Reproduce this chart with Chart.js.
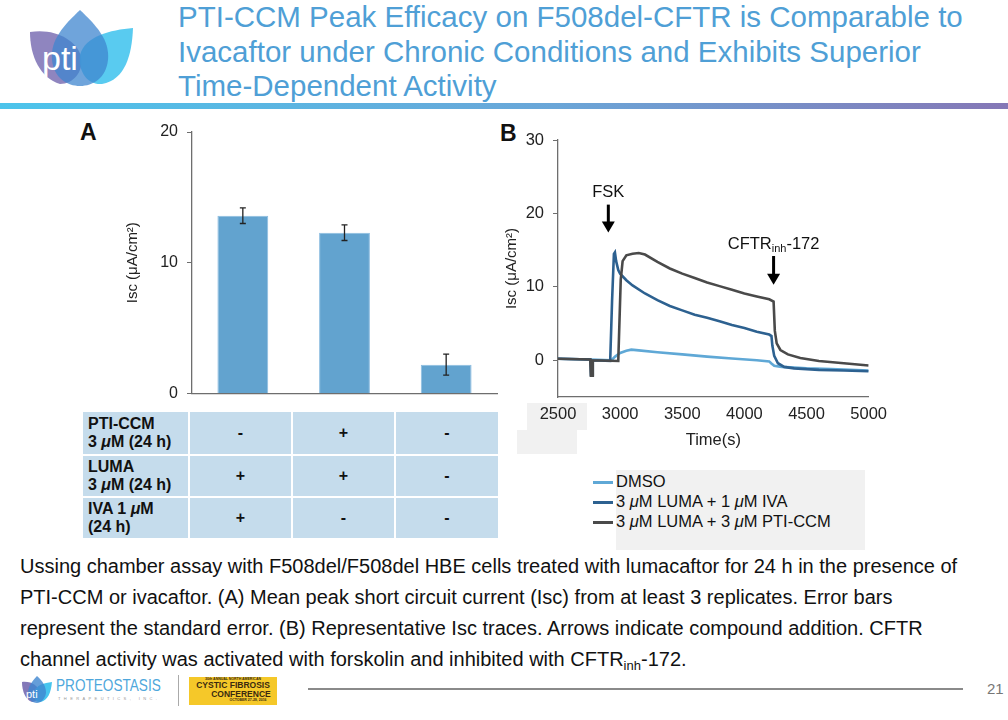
<!DOCTYPE html>
<html>
<head>
<meta charset="utf-8">
<script src="https://cdn.jsdelivr.net/npm/chart.js@4.4.1/dist/chart.umd.min.js"></script>
<style>
  body { margin:0; width:1008px; height:720px; position:relative; overflow:hidden; background:#fff;
         font-family:"Liberation Sans", Arial, sans-serif; color:#111; }
  .abs { position:absolute; }
  #title { left:178px; top:0px; font-size:29.5px; line-height:34.5px; color:#4f9fd6; white-space:nowrap; }
  #rule { left:0; top:103px; width:1008px; height:6px; background:linear-gradient(to right,#4cc4eb,#6aa6d8 55%,#8577b6); }
  .panel { font-weight:bold; font-size:23px; }
  #tbl { left:81px; top:410px; border-collapse:separate; border-spacing:2px; background:#fff; }
  #tbl td { background:#c5dcec; font-weight:bold; font-size:16px; line-height:18px; text-align:center; padding:0; }
  #tbl td:first-child { text-align:left; padding-left:5px; }
  #legend { left:593px; top:471px; font-size:16.5px; }
  #legend div { height:20px; line-height:20px; white-space:nowrap; }
  #legend span { display:inline-block; width:20px; height:2.5px; vertical-align:middle; margin-right:3px; }
  .grey { background:#f1f1f1; }
  #caption { left:20px; top:551px; font-size:20px; line-height:31px; white-space:nowrap; }
  #caption sub { font-size:13px; vertical-align:-4px; line-height:0; }
</style>
</head>
<body>

<svg class="abs" style="left:0;top:0" width="140" height="100">
  <path d="M30,32 C55,28 76,40 81,56 C84,72 73,84 60,84 C40,78 30,56 30,32 Z" fill="#8378b8" opacity="0.9"/>
  <path d="M133,28 C132,55 125,80 102,84 C86,85 78,70 80,55 C85,36 110,30 133,28 Z" fill="#47c5ee" opacity="0.9"/>
  <path d="M80,10 C96,25 110,40 108,60 C106,78 93,86 80,86 C67,86 54,78 52,60 C50,40 64,25 80,10 Z" fill="#3f86cf" opacity="0.75"/>
  <text x="42" y="70" font-size="34" fill="#fff" font-family="Liberation Sans, Arial">pti</text>
</svg>
<div id="title" class="abs">PTI-CCM Peak Efficacy on F508del-CFTR is Comparable to<br>Ivacaftor under Chronic Conditions and Exhibits Superior<br>Time-Dependent Activity</div>
<div id="rule" class="abs"></div>

<div class="abs panel" style="left:80px;top:119px">A</div>
<div class="abs panel" style="left:500px;top:120px">B</div>

<div class="abs grey" style="left:527px;top:403px;width:60px;height:27px"></div>
<div class="abs grey" style="left:517px;top:430px;width:60px;height:24px"></div>
<div class="abs grey" style="left:616px;top:470px;width:249px;height:80px"></div>

<div class="abs" style="left:100px;top:112px;width:400px;height:300px"><canvas id="chartA"></canvas></div>
<div class="abs" style="left:495px;top:118px;width:400px;height:335px"><canvas id="chartB"></canvas></div>

<table id="tbl" class="abs"></table>
<div id="legend" class="abs"></div>

<div id="caption" class="abs">Ussing chamber assay with F508del/F508del HBE cells treated with lumacaftor for 24 h in the presence of<br>PTI-CCM or ivacaftor. (A) Mean peak short circuit current (Isc) from at least 3 replicates. Error bars<br>represent the standard error. (B) Representative Isc traces. Arrows indicate compound addition. CFTR<br>channel activity was activated with forskolin and inhibited with CFTR<sub>inh</sub>-172.</div>

<!-- footer -->
<svg class="abs" style="left:20px;top:676px" width="34" height="28">
  <path d="M2,6 C12,5 18,10 19,16 C20,22 16,26 12,26 C6,24 2,16 2,6 Z" fill="#8378b8"/>
  <path d="M32,6 C31,16 28,25 20,26 C15,26 13,21 14,16 C16,9 24,7 32,6 Z" fill="#47c5ee"/>
  <path d="M17,0 C23,5 26,11 26,17 C25,23 21,27 17,27 C12,27 8,23 8,17 C8,11 12,5 17,0 Z" fill="#3f86cf" opacity="0.8"/>
  <text x="6" y="22" font-size="11" fill="#fff">pti</text>
</svg>
<div class="abs" style="left:56px;top:676px;font-size:17px;color:#4ea7dc;transform:scaleX(0.8);transform-origin:left">PROTEOSTASIS</div>
<div class="abs" style="left:58px;top:696px;font-size:4px;color:#999;letter-spacing:3.4px">THERAPEUTICS, INC.</div>
<div class="abs" style="left:178px;top:675px;width:1px;height:31px;background:#aaa"></div>
<div class="abs" style="left:189px;top:677px;width:88px;height:28px;background:#f5c829;text-align:center;color:#3a2a10;font-weight:bold">
  <div style="font-size:3.5px;line-height:4px">30th ANNUAL NORTH AMERICAN</div>
  <div style="font-size:8.5px;line-height:9px">CYSTIC FIBROSIS</div>
  <div style="font-size:8.5px;line-height:8px;padding-left:16px">CONFERENCE</div>
  <div style="font-size:3.5px;line-height:5px;padding-left:30px">OCTOBER 27-29, 2016</div>
</div>
<div class="abs" style="left:308px;top:688px;width:655px;height:2px;background:#8a8a8a"></div>
<div class="abs" style="left:987px;top:680px;font-size:15px;color:#777">21</div>

<script>
// ---- panel A: peak Isc ----
const treatments = ["LUMA + IVA", "LUMA + PTI-CCM", "DMSO"];
const peakIsc = [13.6, 12.3, 2.2];
const peakErr = [0.6, 0.6, 0.8];
const rowLabels = ["PTI-CCM<br>3 <i>μ</i>M (24 h)", "LUMA<br>3 <i>μ</i>M (24 h)", "IVA 1 <i>μ</i>M<br>(24 h)"];
const rowPticcm = ["-", "+", "-"];
const rowLuma = ["+", "+", "-"];
const rowIva = ["+", "-", "-"];
const yTicksA = [0, 10, 20];

// ---- panel B: Isc traces ----
const seriesNames = ["DMSO", "3 μM LUMA + 1 μM IVA", "3 μM LUMA + 3 μM PTI-CCM"];
const seriesColors = ["#5fa8d6", "#2d6190", "#4a4a4a"];
const dmsoT = [2500, 2760, 2930, 2960, 3000, 3050, 3090, 3150, 3300, 3500, 3700, 3900, 4100, 4200, 4215, 4240, 4300, 4500, 4700, 5000];
const dmsoY = [0.2, 0.1, 0.0, 0.5, 1.0, 1.3, 1.45, 1.35, 1.1, 0.8, 0.5, 0.25, 0.0, -0.15, -0.4, -0.75, -0.9, -1.1, -1.2, -1.4];
const ivaT = [2500, 2760, 2765, 2775, 2780, 2920, 2935, 2950, 2958, 2968, 2985, 3000, 3050, 3100, 3200, 3300, 3400, 3500, 3600, 3700, 3800, 3900, 4000, 4100, 4200, 4218, 4225, 4240, 4270, 4320, 4400, 4600, 4800, 5000];
const ivaY = [0.2, 0.1, -2.0, -2.0, 0.0, -0.1, 8, 14.5, 14.7, 13.5, 12.3, 11.8, 10.9, 10.2, 9.1, 8.2, 7.4, 6.8, 6.2, 5.8, 5.3, 4.8, 4.4, 3.9, 3.5, 3.3, 2.0, 0.6, -0.4, -0.9, -1.1, -1.3, -1.4, -1.5];
const ccmT = [2500, 2760, 2765, 2775, 2780, 2985, 3005, 3020, 3050, 3100, 3150, 3200, 3300, 3400, 3500, 3600, 3700, 3800, 3900, 4000, 4100, 4200, 4235, 4245, 4260, 4290, 4350, 4450, 4600, 4800, 5000];
const ccmY = [0.2, 0.1, -2.1, -2.1, 0.0, -0.1, 11, 13.5, 14.3, 14.5, 14.6, 14.4, 13.4, 12.5, 11.8, 11.2, 10.6, 10.1, 9.6, 9.1, 8.7, 8.3, 8.0, 4.0, 2.3, 1.4, 0.8, 0.3, -0.1, -0.4, -0.7];
const xTicksB = [2500, 3000, 3500, 4000, 4500, 5000];
const yTicksB = [0, 10, 20, 30];

// arrows (data units)
const arrowText = ["FSK", "CFTR"];
const arrowSub = ["", "inh"];
const arrowTail = ["", "-172"];
const arrowTime = [2905, 4235];
const arrowTop = [21.2, 14.2];
const arrowTip = [17.4, 10.3];

const FONT = "'Liberation Sans', Arial, sans-serif";
Chart.defaults.font.family = FONT;
Chart.defaults.color = "#222";

/* table under panel A */
const tbl = document.getElementById("tbl");
const colW = [101, 101, 102];
[rowPticcm, rowLuma, rowIva].forEach((row, r) => {
  const tr = document.createElement("tr");
  tr.style.height = (r === 0 ? 42 : 40) + "px";
  let html = '<td style="width:100px">' + rowLabels[r] + "</td>";
  row.forEach((v, c) => { html += '<td style="width:' + colW[c] + 'px">' + v + "</td>"; });
  tr.innerHTML = html;
  tbl.appendChild(tr);
});

/* error bars */
const errorBars = {
  id: "errorBars",
  afterDatasetsDraw(chart) {
    const { ctx, scales: { y } } = chart;
    const meta = chart.getDatasetMeta(0);
    ctx.save();
    ctx.strokeStyle = "#222";
    ctx.lineWidth = 1.3;
    meta.data.forEach((bar, i) => {
      const hi = y.getPixelForValue(peakIsc[i] + peakErr[i]);
      const lo = y.getPixelForValue(peakIsc[i] - peakErr[i]);
      ctx.beginPath();
      ctx.moveTo(bar.x, hi); ctx.lineTo(bar.x, lo);
      ctx.moveTo(bar.x - 3, hi); ctx.lineTo(bar.x + 3, hi);
      ctx.moveTo(bar.x - 3, lo); ctx.lineTo(bar.x + 3, lo);
      ctx.stroke();
    });
    ctx.restore();
  }
};

/* arrows + labels */
const arrows = {
  id: "arrows",
  afterDatasetsDraw(chart) {
    const { ctx, scales: { x, y } } = chart;
    ctx.save();
    arrowTime.forEach((t, i) => {
      const px = x.getPixelForValue(t);
      const top = y.getPixelForValue(arrowTop[i]);
      const tip = y.getPixelForValue(arrowTip[i]);
      ctx.strokeStyle = "#000";
      ctx.fillStyle = "#000";
      ctx.lineWidth = 3;
      ctx.beginPath(); ctx.moveTo(px, top); ctx.lineTo(px, tip - 9); ctx.stroke();
      ctx.beginPath(); ctx.moveTo(px - 6.5, tip - 11); ctx.lineTo(px + 6.5, tip - 11); ctx.lineTo(px, tip); ctx.closePath(); ctx.fill();

      // label, centred over arrow, with subscript
      const big = "16.5px " + FONT, small = "11px " + FONT;
      ctx.font = big; const w1 = ctx.measureText(arrowText[i]).width;
      const w3 = ctx.measureText(arrowTail[i]).width;
      ctx.font = small; const w2 = ctx.measureText(arrowSub[i]).width;
      let lx = px - (w1 + w2 + w3) / 2;
      const ly = top - 12;
      ctx.textBaseline = "middle";
      ctx.textAlign = "left";
      ctx.fillStyle = "#111";
      ctx.font = big; ctx.fillText(arrowText[i], lx, ly); lx += w1;
      ctx.font = small; ctx.fillText(arrowSub[i], lx, ly + 5); lx += w2;
      ctx.font = big; ctx.fillText(arrowTail[i], lx, ly);
    });
    ctx.restore();
  }
};

/* PANEL A */
new Chart(document.getElementById("chartA"), {
  type: "bar",
  data: {
    labels: treatments,
    datasets: [{
      data: peakIsc,
      backgroundColor: "#62a3cf",
      borderColor: "#8cbde0",
      borderWidth: 1,
      barPercentage: 0.5,
      categoryPercentage: 1.0
    }]
  },
  options: {
    responsive: true,
    maintainAspectRatio: false,
    animation: false,
    layout: { padding: { top: 20, right: 3 } },
    plugins: { legend: { display: false }, tooltip: { enabled: false } },
    scales: {
      x: {
        ticks: { display: false },
        grid: { display: false, drawTicks: false },
        border: { display: true, color: "#6e6e6e", width: 1.3 },
        afterFit(s) { s.height = 11; }
      },
      y: {
        min: 0, max: 20,
        afterBuildTicks(s) { s.ticks = yTicksA.map(v => ({ value: v })); },
        ticks: { font: { size: 16 }, padding: 9, color: "#222", callback: v => String(v) },
        grid: { drawOnChartArea: false, tickLength: 5, color: "#6e6e6e" },
        border: { display: true, color: "#6e6e6e", width: 1.3 },
        title: { display: true, text: "Isc (μA/cm²)", font: { size: 15 }, color: "#222", padding: { top: 24, bottom: 0 } },
        afterFit(s) { s.width = 92; }
      }
    }
  },
  plugins: [errorBars]
});

/* PANEL B */
const traces = [[dmsoT, dmsoY], [ivaT, ivaY], [ccmT, ccmY]];
const chartB = new Chart(document.getElementById("chartB"), {
  type: "scatter",
  data: {
    datasets: traces.map(([ts, vs], i) => ({
      label: seriesNames[i],
      data: ts.map((t, k) => ({ x: t, y: vs[k] })),
      showLine: true,
      borderColor: seriesColors[i],
      backgroundColor: seriesColors[i],
      borderWidth: 2.6,
      pointRadius: 0,
      tension: 0,
      order: 2 - i
    }))
  },
  options: {
    responsive: true,
    maintainAspectRatio: false,
    animation: false,
    layout: { padding: { top: 22, right: 20 } },
    plugins: { legend: { display: false }, tooltip: { enabled: false } },
    scales: {
      x: {
        type: "linear",
        min: 2500, max: 5000,
        afterBuildTicks(s) { s.ticks = xTicksB.map(v => ({ value: v })); },
        ticks: { font: { size: 16.5 }, padding: 8, color: "#222", maxRotation: 0, callback: v => String(v) },
        grid: { display: false, drawTicks: false },
        border: { display: true, color: "#6e6e6e", width: 1.3 },
        title: { display: true, text: "Time(s)", font: { size: 16.5 }, color: "#222", padding: { top: 0, bottom: 3 } },
        afterFit(s) { s.height = 56; }
      },
      y: {
        min: -5, max: 30,
        afterBuildTicks(s) { s.ticks = yTicksB.map(v => ({ value: v })); },
        ticks: { font: { size: 16.5 }, padding: 9, color: "#222", callback: v => String(v) },
        grid: { drawOnChartArea: false, tickLength: 5, color: "#6e6e6e" },
        border: { display: true, color: "#6e6e6e", width: 1.3 },
        title: { display: true, text: "Isc (μA/cm²)", font: { size: 15 }, color: "#222", padding: { top: 8, bottom: 0 } },
        afterFit(s) { s.width = 63; }
      }
    }
  },
  plugins: [arrows]
});

/* legend for B */
const legend = document.getElementById("legend");
chartB.data.datasets.forEach(ds => {
  const row = document.createElement("div");
  row.innerHTML = '<span style="background:' + ds.borderColor + '"></span>' +
    ds.label.replace(/μ/g, "<i>μ</i>");
  legend.appendChild(row);
});
</script>
</body>
</html>
